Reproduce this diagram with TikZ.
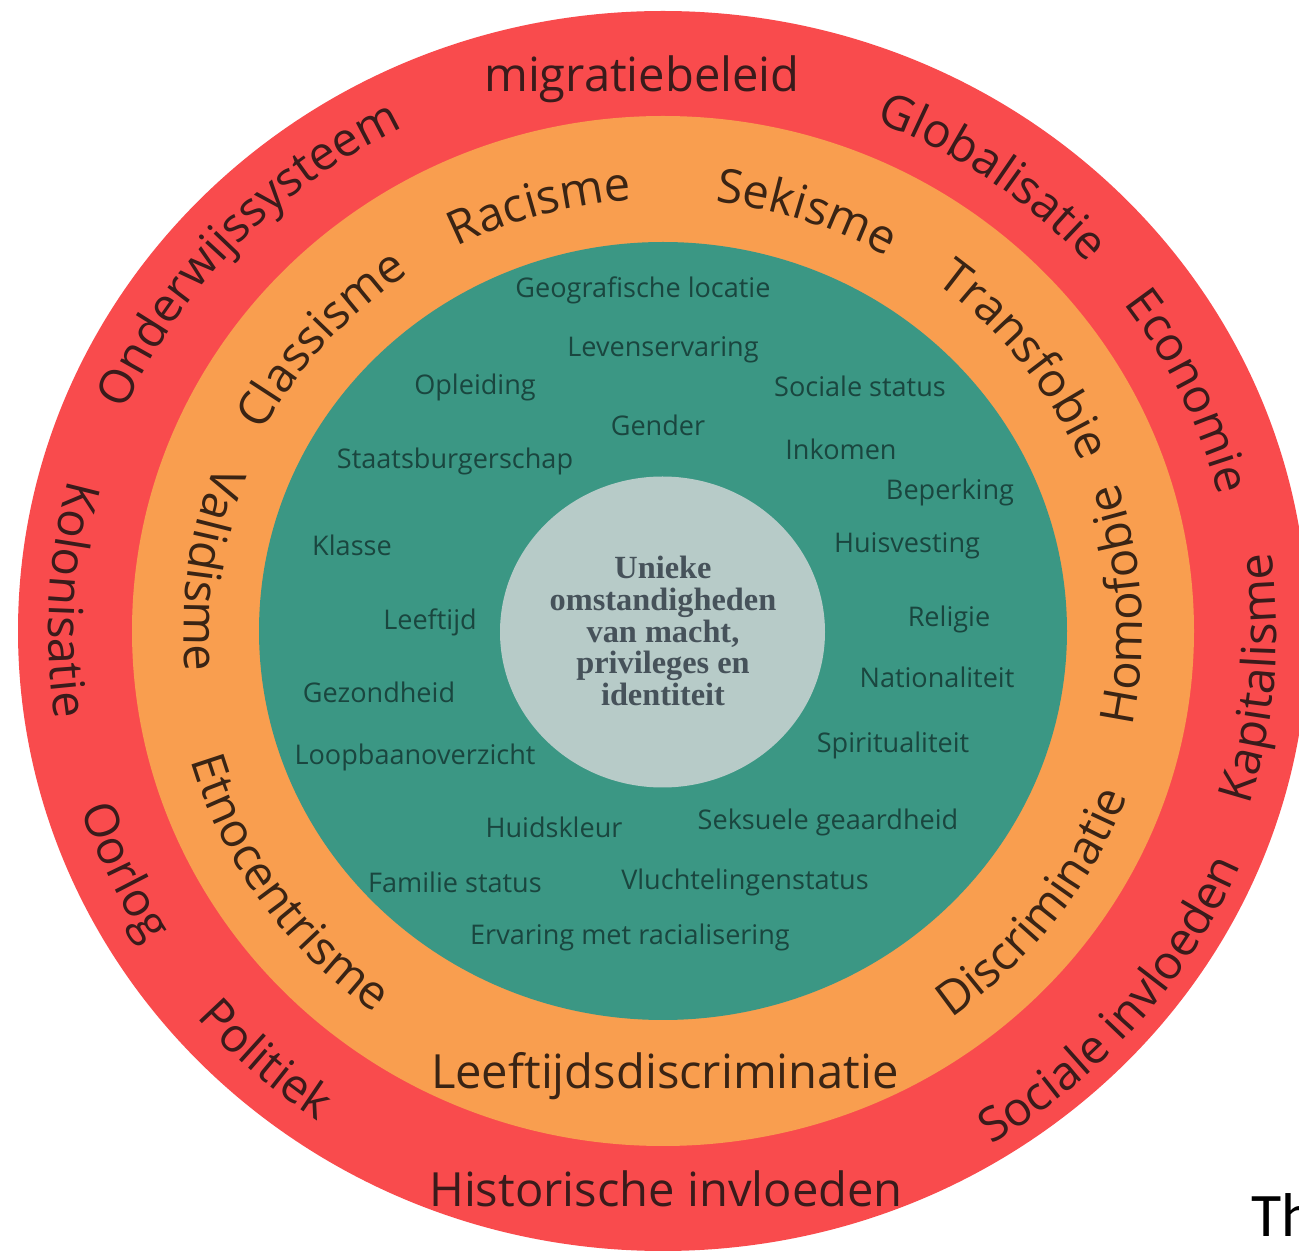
\documentclass[tikz,border=0pt]{standalone}
\usepackage{fontspec}
\setmainfont{Open Sans}
\newfontfamily\serifbold{Liberation Serif}
\newfontfamily\carlitofont{Carlito}
\usetikzlibrary{decorations.text}
\definecolor{ringred}{HTML}{F94B4D}
\definecolor{ringorange}{HTML}{F99E4F}
\definecolor{ringteal}{HTML}{3B9784}
\definecolor{coregray}{HTML}{B7CBC8}
\definecolor{redtxt}{HTML}{3A1B1B}
\definecolor{orangetxt}{HTML}{3A2414}
\definecolor{tealtxt}{HTML}{1A463F}
\definecolor{coretxt}{HTML}{46525A}
\newcommand\rfred{\fontsize{13.4}{16}\selectfont\color{redtxt}}
\newcommand\rforange{\fontsize{13.4}{16}\selectfont\color{orangetxt}}
% #1 y radius, #2 x radius, #3 start angle, #4 end angle, #5 format, #6 text
\newcommand\curvlbl[6]{%
  \path[decorate,decoration={text along path,text align=center,text={|#5|#6}}]
    (663,631) ++(#3:#2 and #1) arc[start angle=#3,end angle=#4,x radius=#2,y radius=#1];}
\tikzset{
  teallbl/.style={font=\fontsize{7.7}{9}\selectfont, text=tealtxt, inner sep=0pt},
  ringlbl/.style={font=\fontsize{13.4}{16}\selectfont, inner sep=0pt, anchor=base},
  corelbl/.style={font=\serifbold\bfseries\fontsize{9.2}{9}\selectfont, text=coretxt, align=center, inner sep=0pt}
}
\begin{document}
\begin{tikzpicture}[x=0.01cm,y=-0.01cm]
\useasboundingbox (0,0) rectangle (1299,1252);
\clip (0,0) rectangle (1299,1252);
\fill[white] (0,0) rectangle (1299,1252);
% rings
\fill[ringred] (663,631) ellipse [x radius=645, y radius=620];
\fill[ringorange] (663,631) ellipse [x radius=531, y radius=515];
\fill[ringteal] (663,631) ellipse [x radius=404, y radius=389];
\fill[coregray] (662.5,632) ellipse [x radius=162.5, y radius=155.5];
% centre
\node[corelbl] (core) at (663,631) {Unieke\\omstandigheden\\van macht,\\privileges en\\identiteit};
% red ring, top outward
\curvlbl{562}{584.5}{183}{263}{\rfred}{Onderwijssysteem}
\curvlbl{549}{571}{265.3}{345.3}{\rfred}{Globalisatie}
\curvlbl{551}{573}{295}{375}{\rfred}{Economie}
% red ring, top inward
\curvlbl{590}{613.6}{44.7}{-35.3}{\rfred}{Kapitalisme}
\curvlbl{603}{627.1}{80.3}{0.3}{\rfred}{Sociale invloeden}
\curvlbl{592}{615.7}{172.1}{92.1}{\rfred}{Politiek}
\curvlbl{587}{610.5}{195.4}{115.4}{\rfred}{Oorlog}
\curvlbl{591}{614.6}{223.1}{143.1}{\rfred}{Kolonisatie}
\node[ringlbl, text=redtxt] (migratie) at (642,92) {migratiebeleid};
\node[ringlbl, text=redtxt] (historisch) at (666,1206) {Historische invloeden};
% orange ring, top outward
\curvlbl{433}{450.3}{176}{266}{\rforange}{Classisme}
\curvlbl{432}{449.3}{209.1}{299.1}{\rforange}{Racisme}
\curvlbl{432}{449.3}{243.6}{333.6}{\rforange}{Sekisme}
\curvlbl{436}{453.4}{277.6}{367.6}{\rforange}{Transfobie}
% orange ring, top inward
\curvlbl{461}{479.4}{401.6}{311.6}{\rforange}{Homofobie}
\curvlbl{476}{495}{81.9}{-8.1}{\rforange}{Discriminatie}
\curvlbl{472}{490.9}{190.4}{100.4}{\rforange}{Etnocentrisme}
\curvlbl{461}{479.4}{232.9}{142.9}{\rforange}{Validisme}
\node[ringlbl, text=orangetxt] (leeftijdsd) at (665,1089) {Leeftijdsdiscriminatie};
% teal labels
\node[teallbl] (geo) at (643,290) {Geografische locatie};
\node[teallbl] (leven) at (663,350) {Levenservaring};
\node[teallbl] (opleiding) at (475,387) {Opleiding};
\node[teallbl] (sociaal) at (860,386) {Sociale status};
\node[teallbl] (gender) at (658,425) {Gender};
\node[teallbl] (staat) at (455,461) {Staatsburgerschap};
\node[teallbl] (inkomen) at (841,449) {Inkomen};
\node[teallbl] (beperking) at (950,492) {Beperking};
\node[teallbl] (klasse) at (352,545) {Klasse};
\node[teallbl] (huis) at (907,546) {Huisvesting};
\node[teallbl] (leeftijd) at (430,622) {Leeftijd};
\node[teallbl] (religie) at (949,619) {Religie};
\node[teallbl] (gezond) at (379,692) {Gezondheid};
\node[teallbl] (nation) at (937,677) {Nationaliteit};
\node[teallbl] (loopbaan) at (415,757) {Loopbaanoverzicht};
\node[teallbl] (spirit) at (893,745) {Spiritualiteit};
\node[teallbl] (huid) at (554,827) {Huidskleur};
\node[teallbl] (seks) at (828,822) {Seksuele geaardheid};
\node[teallbl] (familie) at (455,882) {Familie status};
\node[teallbl] (vlucht) at (745,882) {Vluchtelingenstatus};
\node[teallbl] (ervaring) at (630,937) {Ervaring met racialisering};
% cut-off text at the right edge
\node[anchor=base west, inner sep=0pt, font=\carlitofont\fontsize{17.6}{20}\selectfont] (th) at (1251,1237) {Th};
\end{tikzpicture}
\end{document}
